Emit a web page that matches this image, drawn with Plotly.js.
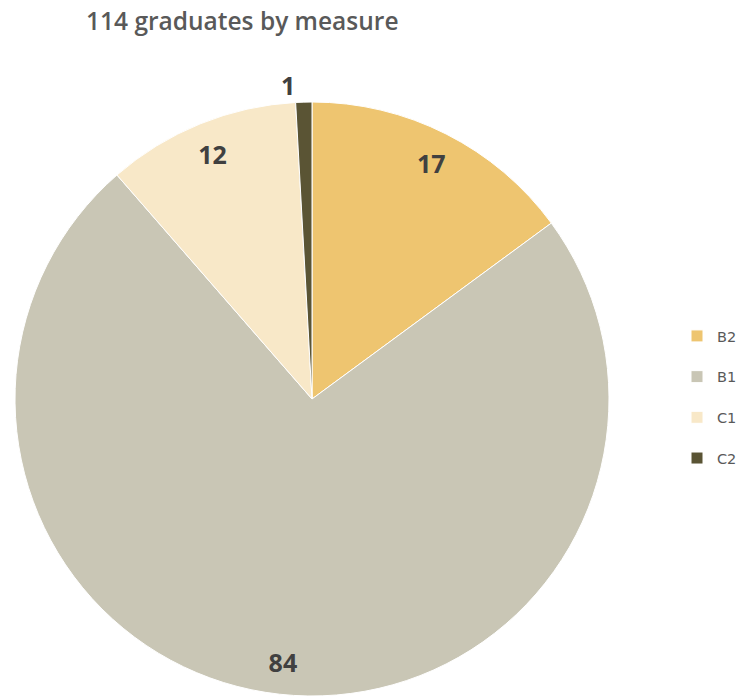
<!DOCTYPE html>
<html>
<head>
<meta charset="utf-8">
<script src="https://cdn.plot.ly/plotly-3.0.1.min.js"></script>
<style>html,body{margin:0;padding:0;background:#fff;}#chart{width:742px;height:698px;}</style>
</head>
<body>
<div id="chart"></div>
<script>
var categories = ["B2", "B1", "C1", "C2"];
var values = [17, 84, 12, 1];
var colors = ["#EEC570", "#C9C6B5", "#F8E8C8", "#5A5434"];
var textPositions = ["inside", "inside", "inside", "outside"];
var titleText = "114 graduates by measure";

var W = 742, H = 698;
var pieDomain = { x: [15 / W, 609 / W], y: [(H - 696) / H, (H - 102) / H] };

// the pie itself
var pieTrace = {
  type: "pie",
  labels: categories.map(function (c) { return c + "<br> "; }),
  values: values,
  sort: false,
  direction: "clockwise",
  rotation: 0,
  marker: { colors: colors, line: { color: "#ffffff", width: 1 } },
  textinfo: "none",
  domain: pieDomain,
  hoverinfo: "label+value"
};

// same data, drawn as a transparent ring so the value labels sit near the rim
var labelTrace = {
  type: "pie",
  labels: categories.map(function (c) { return c + "<br> "; }),
  values: values,
  sort: false,
  direction: "clockwise",
  rotation: 0,
  hole: 0.78,
  showlegend: false,
  marker: { colors: colors.map(function () { return "rgba(0,0,0,0)"; }), line: { width: 0 } },
  textinfo: "value",
  textposition: textPositions,
  insidetextorientation: "horizontal",
  textfont: { family: "Open Sans, sans-serif", size: 25, color: "#404040", weight: "bold" },
  outsidetextfont: { family: "Open Sans, sans-serif", size: 25, color: "#404040", weight: "bold" },
  domain: pieDomain,
  hoverinfo: "skip"
};

var layout = {
  width: W,
  height: H,
  margin: { l: 0, r: 0, t: 0, b: 0, autoexpand: false },
  paper_bgcolor: "#ffffff",
  plot_bgcolor: "#ffffff",
  title: {
    text: titleText,
    x: 86 / W, xanchor: "left", xref: "container",
    y: 1 - 21 / H, yanchor: "middle", yref: "container",
    font: { family: "Open Sans, sans-serif", size: 24.5, color: "#595959", weight: 600 }
  },
  showlegend: true,
  legend: {
    xref: "paper", yref: "paper",
    x: 677 / W, xanchor: "left",
    y: 1 - 320 / H, yanchor: "top",
    valign: "top",
    font: { family: "DejaVu Sans, sans-serif", size: 14.5, color: "#595959" },
    bgcolor: "rgba(0,0,0,0)"
  }
};

Plotly.newPlot("chart", [pieTrace, labelTrace], layout, { displayModeBar: false, staticPlot: true });
</script>
</body>
</html>
